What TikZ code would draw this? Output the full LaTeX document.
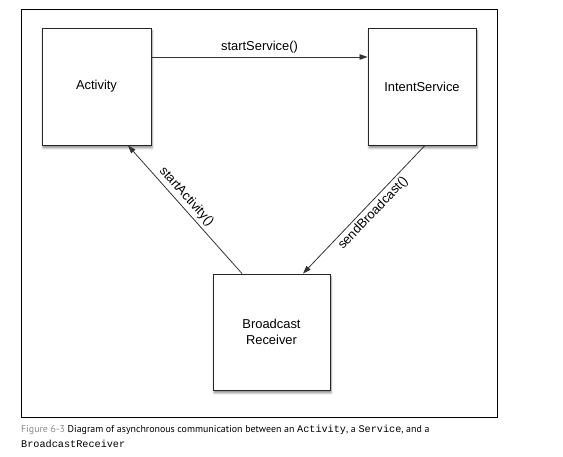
\documentclass[tikz,border=0pt]{standalone}
\usepackage{fontspec}
\setmainfont{Liberation Sans}
\newfontfamily\capfont{PT Sans}
\setmonofont{Liberation Mono}
\usetikzlibrary{arrows.meta,shadows.blur}
\definecolor{edgegray}{HTML}{333333}
\definecolor{figgray}{HTML}{8A8A8A}
\tikzset{
  box/.style={draw=black!85, fill=white, line width=0.9pt, inner sep=0pt,
    align=center, font=\fontsize{12.9}{16}\selectfont,
    blur shadow={shadow xshift=1pt, shadow yshift=-3pt, shadow blur steps=6, shadow opacity=45}},
  call/.style={draw=edgegray, line width=0.8pt, -{Triangle[length=8pt,width=5.5pt]}},
  lbl/.style={font=\fontsize{12.9}{16}\selectfont, inner sep=2pt}
}
\newcommand{\cde}[1]{{\ttfamily\fontsize{10.2}{15}\selectfont #1}}
\begin{document}
\begin{tikzpicture}[x=1pt,y=1pt]
      \useasboundingbox (0,0) rectangle (563,457);
      \draw[line width=0.9pt] (21.5,40) rectangle (497,448);
      \node[box, minimum width=109, minimum height=117] (act) at (96.5,370.5) {Activity};
      \node[box, minimum width=108, minimum height=117] (svc) at (422,370.5) {IntentService};
      \node[box, minimum width=117, minimum height=116] (rcv) at (271.5,125) {Broadcast\\Receiver};
      \begin{scope}[call]
        \draw ([yshift=29.5]act.east) to node[lbl, above=1pt] {startService()} ([yshift=29.5]svc.west);
        \draw ([xshift=-29.5]rcv.north) to node[lbl, sloped, above=1pt, pos=0.55] {startActivity()} ([xshift=31.5]act.south);
        \draw ([xshift=3]svc.south) to node[lbl, sloped, below=1pt, pos=0.48] {sendBroadcast()} ([xshift=31.5]rcv.north);
      \end{scope}
      \node[anchor=base west, inner sep=0pt, align=left, font=\capfont\fontsize{9.9}{15}\selectfont] (cap) at (21,9)
        {{\color{figgray}Figure 6-3} Diagram of asynchronous communication between an \cde{Activity}, a \cde{Service}, and a\\
         \cde{BroadcastReceiver}};
    \end{tikzpicture}
\end{document}
